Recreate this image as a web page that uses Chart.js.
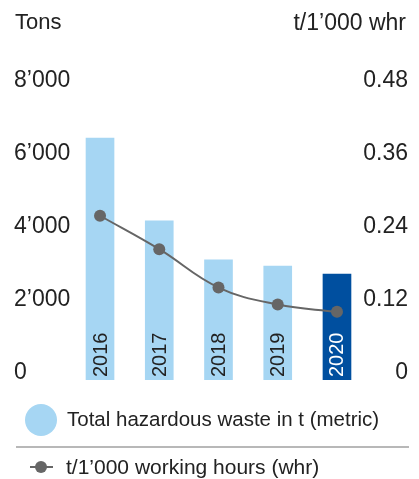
<!DOCTYPE html>
<html>
<head>
<meta charset="utf-8">
<script src="https://cdn.jsdelivr.net/npm/chart.js@4.4.1/dist/chart.umd.min.js"></script>
<style>
  body { margin: 0; background: #fff; font-family: "Liberation Sans", Arial, sans-serif; color: #222; }
  #wrap { position: relative; width: 419px; height: 479px; overflow: hidden; }
  #myChart { position: absolute; left: 0; top: 0; }
  .txt { position: absolute; line-height: 1; white-space: nowrap; }
  .title { font-size: 22px; top: 11px; }
  .legend { font-size: 20.5px; }
  .dot { position: absolute; border-radius: 50%; }
</style>
</head>
<body>
<div id="wrap">
  <canvas id="myChart" width="419" height="479"></canvas>
  <div class="txt title" style="left:15px;">Tons</div>
  <div class="txt title" style="right:13px;font-size:23px;">t/1’000 whr</div>

  <div class="dot" style="left:25px;top:404px;width:32px;height:32px;background:#a6d6f3;"></div>
  <div class="txt legend" style="left:67px;top:409px;">Total hazardous waste in t (metric)</div>
  <div style="position:absolute;left:16px;top:446px;width:393px;height:2px;background:#b8b8b8;"></div>
  <div style="position:absolute;left:30px;top:466px;width:23px;height:2px;background:#666;"></div>
  <div class="dot" style="left:35px;top:461px;width:12px;height:12px;background:#666;"></div>
  <div class="txt legend" style="left:66px;top:456px;font-size:21px;">t/1’000 working hours (whr)</div>
</div>
<script>
const years = ['2016', '2017', '2018', '2019', '2020'];
const wasteTons = [6630, 4360, 3290, 3120, 2900];
const tonsPerWhr = [0.27, 0.215, 0.152, 0.124, 0.112];
const barColors = ['#a6d6f3', '#a6d6f3', '#a6d6f3', '#a6d6f3', '#004f9f'];
const yearColors = ['#222', '#222', '#222', '#222', '#fff'];

// year labels written upwards inside each bar
const yearLabels = {
  id: 'yearLabels',
  afterLayout(chart) {
    // widen the label clip box of the right axis so "0.48" is not cut
    chart.scales.y1.left -= 14;
  },
  afterDatasetsDraw(chart) {
    const ctx = chart.ctx;
    const bars = chart.getDatasetMeta(1).data;
    ctx.save();
    ctx.font = '20px "Liberation Sans", Arial, sans-serif';
    ctx.textAlign = 'left';
    ctx.textBaseline = 'middle';
    bars.forEach((bar, i) => {
      ctx.save();
      ctx.translate(bar.x, chart.chartArea.bottom - 3);
      ctx.rotate(-Math.PI / 2);
      ctx.fillStyle = yearColors[i];
      ctx.fillText(years[i], 0, 1);
      ctx.restore();
    });
    ctx.restore();
  }
};

const data = {
  labels: years,
  datasets: [{
    type: 'line',
    label: 't/1’000 working hours (whr)',
    data: tonsPerWhr,
    yAxisID: 'y1',
    borderColor: '#666',
    borderWidth: 2,
    pointRadius: 6,
    pointBackgroundColor: '#666',
    pointBorderWidth: 0,
    tension: 0.4,
    order: 1
  }, {
    type: 'bar',
    label: 'Total hazardous waste in t (metric)',
    data: wasteTons,
    yAxisID: 'y',
    backgroundColor: barColors,
    barThickness: 28,
    order: 2
  }]
};

const tickFont = { family: '"Liberation Sans", Arial, sans-serif', size: 23 };

const config = {
  data: data,
  plugins: [yearLabels],
  options: {
    responsive: false,
    animation: false,
    devicePixelRatio: 1,
    layout: {
      padding: { left: 14, right: 11, top: 88, bottom: 99 }
    },
    scales: {
      x: {
        display: false,
        offset: true
      },
      y: {
        position: 'left',
        min: 0,
        max: 8000,
        grid: { display: false },
        border: { display: false },
        afterFit(scale) { scale.width = 56.4; },
        ticks: {
          stepSize: 2000,
          crossAlign: 'far',
          labelOffset: -7,
          color: '#222',
          font: tickFont,
          callback: v => v === 0 ? '0' : (v / 1000) + '’000'
        }
      },
      y1: {
        position: 'right',
        min: 0,
        max: 0.48,
        grid: { display: false },
        border: { display: false },
        afterFit(scale) { scale.width = 41.4; },
        ticks: {
          stepSize: 0.12,
          crossAlign: 'far',
          labelOffset: -7,
          color: '#222',
          font: tickFont,
          callback: v => v === 0 ? '0' : v.toFixed(2)
        }
      }
    },
    plugins: {
      legend: { display: false },
      tooltip: { enabled: false }
    }
  }
};

const myChart = new Chart(
  document.getElementById('myChart'),
  config
);
</script>
</body>
</html>
